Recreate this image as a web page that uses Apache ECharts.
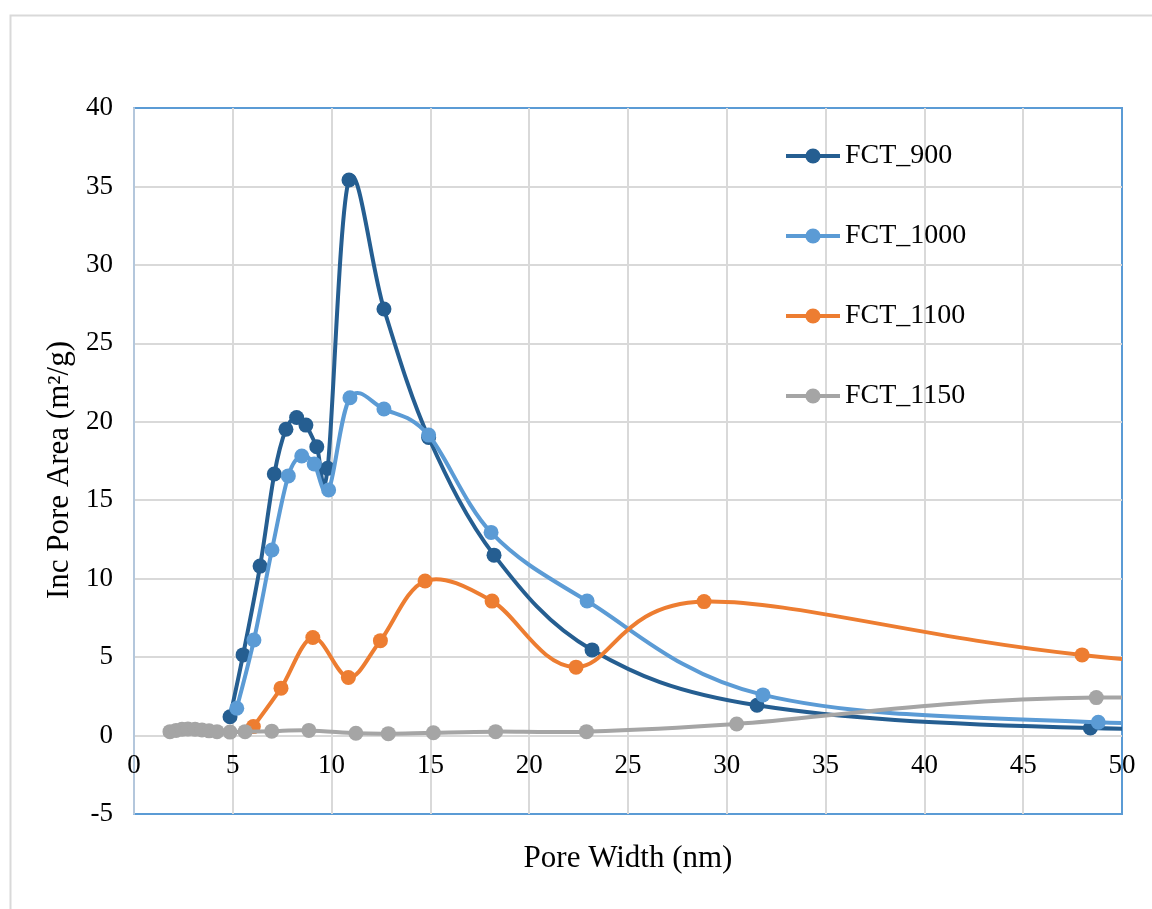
<!DOCTYPE html>
<html>
<head>
<meta charset="utf-8">
<script src="https://cdn.jsdelivr.net/npm/echarts@6/dist/echarts.min.js"></script>
<style>
html,body{margin:0;padding:0;background:#fff;}
#c{width:1152px;height:909px;}
</style>
</head>
<body>
<div id="c"></div>
<script>
// ---- Data ----
const seriesNames = ['FCT_900', 'FCT_1000', 'FCT_1100', 'FCT_1150'];

const x900 = [4.86, 5.52, 6.38, 7.10, 7.69, 8.23, 8.70, 9.25, 9.80, 10.88, 12.65, 14.91, 18.22, 23.18, 31.53, 48.4, 80];
const y900 = [1.2, 5.14, 10.8, 16.67, 19.52, 20.27, 19.79, 18.41, 17.03, 35.41, 27.19, 19.0, 11.5, 5.46, 1.93, 0.48, 0.25];

const x1000 = [5.2, 6.07, 6.98, 7.81, 8.49, 9.12, 9.85, 10.93, 12.65, 14.91, 18.07, 22.93, 31.83, 48.8, 80];
const y1000 = [1.74, 6.09, 11.83, 16.55, 17.82, 17.31, 15.65, 21.53, 20.81, 19.15, 12.95, 8.58, 2.59, 0.85, 0.35];

const x1100 = [6.04, 7.44, 9.05, 10.85, 12.47, 14.73, 18.12, 22.37, 28.85, 47.98, 78];
const y1100 = [0.57, 3.02, 6.25, 3.70, 6.05, 9.85, 8.57, 4.36, 8.54, 5.14, 2.0];

const x1150 = [1.82, 2.13, 2.43, 2.73, 3.09, 3.44, 3.80, 4.20, 4.86, 5.62, 6.97, 8.85, 11.23, 12.87, 15.15, 18.3, 22.9, 30.5, 48.7, 80];
const y1150 = [0.25, 0.33, 0.40, 0.42, 0.40, 0.35, 0.30, 0.25, 0.22, 0.25, 0.28, 0.33, 0.15, 0.12, 0.18, 0.25, 0.25, 0.74, 2.42, 1.4];

const xTicksMin = 0, xTicksMax = 50, xTickStep = 5;
const yTicksMin = -5, yTicksMax = 40, yTickStep = 5;

const colors = ['#255e91', '#5b9bd5', '#ed7d31', '#a5a5a5'];

// ---- Build ----
const pairs = (xs, ys) => xs.map((x, i) => [x, ys[i]]);
const allData = [pairs(x900, y900), pairs(x1000, y1000), pairs(x1100, y1100), pairs(x1150, y1150)];

const FONT = '"Times New Roman", "Liberation Serif", serif';

// Spreadsheet-style (Catmull-Rom) smoothed curve through the data points,
// positioned through the chart's own axes via api.coord.
function curveRenderer(idx) {
  return function (params, api) {
    if (params.dataIndex !== 0) return null;
    const pts = allData[idx].map(d => api.coord(d));
    const n = pts.length;
    let d = 'M' + pts[0][0].toFixed(2) + ',' + pts[0][1].toFixed(2);
    for (let k = 0; k < n - 1; k++) {
      const p0 = pts[Math.max(k - 1, 0)], p1 = pts[k], p2 = pts[k + 1], p3 = pts[Math.min(k + 2, n - 1)];
      const c1x = p1[0] + (p2[0] - p0[0]) / 6, c1y = p1[1] + (p2[1] - p0[1]) / 6;
      const c2x = p2[0] - (p3[0] - p1[0]) / 6, c2y = p2[1] - (p3[1] - p1[1]) / 6;
      d += ' C' + c1x.toFixed(2) + ',' + c1y.toFixed(2) + ' ' + c2x.toFixed(2) + ',' + c2y.toFixed(2) + ' ' + p2[0].toFixed(2) + ',' + p2[1].toFixed(2);
    }
    return {
      type: 'path',
      shape: {pathData: d},
      style: {fill: 'none', stroke: colors[idx], lineWidth: 4, lineJoin: 'round', lineCap: 'round'},
      silent: true
    };
  };
}

const series = [];
seriesNames.forEach((name, i) => {
  series.push({
    name: name + ' curve',
    type: 'custom',
    coordinateSystem: 'cartesian2d',
    renderItem: curveRenderer(i),
    data: allData[i],
    encode: {x: 0, y: 1},
    clip: true,
    z: 2 + 2 * i
  });
  series.push({
    name: name,
    type: 'line',
    data: allData[i],
    clip: true,
    symbol: 'circle',
    symbolSize: 15,
    showAllSymbol: true,
    lineStyle: {width: 4, color: colors[i], opacity: 0},
    itemStyle: {color: colors[i]},
    z: 3 + 2 * i
  });
});

const chart = echarts.init(document.getElementById('c'), null, {renderer: 'canvas'});
chart.setOption({
  animation: false,
  backgroundColor: '#ffffff',
  color: colors,
  graphic: [{
    type: 'rect',
    left: 8, top: 13,
    shape: {width: 1300, height: 1100},
    style: {fill: 'none', stroke: '#d9d9d9', lineWidth: 2},
    silent: true, z: -10
  }],
  grid: {
    left: 134, right: 30, top: 108, bottom: 95,
    outerBoundsMode: 'none',
    containLabel: false,
    show: true, borderColor: '#5b9bd5', borderWidth: 2, backgroundColor: 'transparent'
  },
  legend: {
    orient: 'vertical',
    left: 779, top: 136,
    itemWidth: 54, itemHeight: 19,
    itemGap: 50,
    data: seriesNames,
    lineStyle: {width: 4, opacity: 1},
    textStyle: {fontFamily: FONT, fontSize: 28, color: '#000', lineHeight: 30}
  },
  xAxis: {
    type: 'value',
    min: xTicksMin, max: xTicksMax, interval: xTickStep,
    name: 'Pore Width (nm)',
    nameLocation: 'middle',
    nameGap: 29,
    nameTextStyle: {fontFamily: FONT, fontSize: 31, color: '#000'},
    axisLine: {show: false, onZero: false},
    axisTick: {show: false},
    // tick labels sit just under the zero line (x = 0 crossing), as in the reference
    axisLabel: {fontFamily: FONT, fontSize: 27, color: '#000', margin: -62},
    splitLine: {show: true, showMinLine: false, showMaxLine: false, lineStyle: {color: '#d9d9d9', width: 2}}
  },
  yAxis: {
    type: 'value',
    min: yTicksMin, max: yTicksMax, interval: yTickStep,
    name: 'Inc Pore Area (m²/g)',
    nameLocation: 'middle',
    nameRotate: 90,
    nameGap: 57,
    nameTextStyle: {fontFamily: FONT, fontSize: 31, color: '#000', padding: [0, 18, 0, 0]},
    axisLine: {show: true, onZero: false, lineStyle: {color: '#b4c7dc', width: 2}},
    axisTick: {show: false},
    axisLabel: {fontFamily: FONT, fontSize: 27, color: '#000', margin: 21},
    splitLine: {show: true, showMinLine: false, showMaxLine: false, lineStyle: {color: '#d9d9d9', width: 2}}
  },
  series: series
});
</script>
</body>
</html>
